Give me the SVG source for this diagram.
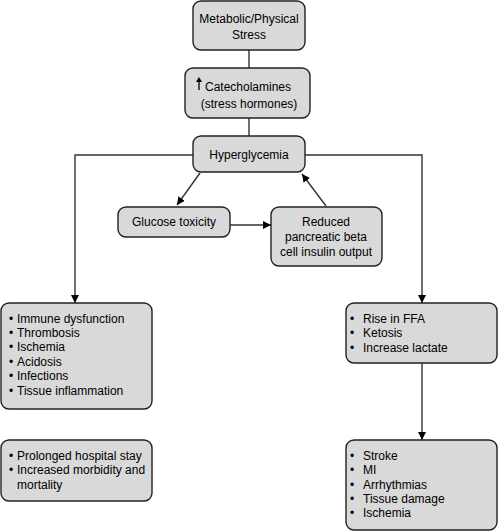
<svg xmlns="http://www.w3.org/2000/svg" width="498" height="532" viewBox="0 0 498 532">
<style>
.box{fill:#d9d9d9;stroke:#222;stroke-width:1.4}
.t{font-family:"Liberation Sans",Arial,sans-serif;font-size:12px;fill:#000}
.c{text-anchor:middle}
.ln{fill:none;stroke:#333;stroke-width:1.4}
</style>
<defs>
<marker id="ah" viewBox="0 0 10 10" refX="10" refY="5" markerWidth="8" markerHeight="8" markerUnits="userSpaceOnUse" orient="auto">
<path d="M0,0 L10,5 L0,10 Z" fill="#000"/>
</marker>
</defs>
<rect width="498" height="532" fill="#fff"/>
<g id="connectors">
<line class="ln" x1="249" y1="50" x2="249" y2="68"/>
<line class="ln" x1="249" y1="118" x2="249" y2="136"/>
<polyline class="ln" points="193,155 75,155 75,303" marker-end="url(#ah)"/>
<polyline class="ln" points="305,155 422,155 422,303" marker-end="url(#ah)"/>
<line class="ln" x1="200" y1="173" x2="177" y2="205" marker-end="url(#ah)"/>
<line class="ln" x1="230" y1="225" x2="271" y2="225" marker-end="url(#ah)"/>
<line class="ln" x1="326" y1="206" x2="302" y2="174" marker-end="url(#ah)"/>
<line class="ln" x1="422" y1="363" x2="422" y2="440" marker-end="url(#ah)"/>
</g>
<g id="stress">
<rect class="box" x="193" y="1" width="112" height="49" rx="8"/>
<text class="t c" x="249" y="23">Metabolic/Physical</text>
<text class="t c" x="249" y="39">Stress</text>
</g>
<g id="catecholamines">
<rect class="box" x="185" y="68" width="125" height="50" rx="8"/>
<line x1="199" y1="90" x2="199" y2="81" stroke="#000" stroke-width="1.3"/>
<path d="M196,82 L199,77 L202,82 Z" fill="#000"/>
<text class="t" x="205" y="91">Catecholamines</text>
<text class="t c" x="249" y="108">(stress hormones)</text>
</g>
<g id="hyperglycemia">
<rect class="box" x="193" y="136" width="112" height="36" rx="8"/>
<text class="t c" x="249" y="159">Hyperglycemia</text>
</g>
<g id="glucose">
<rect class="box" x="118" y="207" width="112" height="30" rx="8"/>
<text class="t c" x="174" y="226">Glucose toxicity</text>
</g>
<g id="reduced">
<rect class="box" x="271" y="207" width="111" height="59" rx="8"/>
<text class="t c" x="326" y="226">Reduced</text>
<text class="t c" x="326" y="241">pancreatic beta</text>
<text class="t c" x="326" y="256">cell insulin output</text>
</g>
<g id="immune">
<rect class="box" x="1" y="303" width="151" height="106" rx="8"/>
<text class="t" x="9" y="323">•</text><text class="t" x="17" y="323">Immune dysfunction</text>
<text class="t" x="9" y="337">•</text><text class="t" x="17" y="337">Thrombosis</text>
<text class="t" x="9" y="351">•</text><text class="t" x="17" y="351">Ischemia</text>
<text class="t" x="9" y="366">•</text><text class="t" x="17" y="366">Acidosis</text>
<text class="t" x="9" y="380">•</text><text class="t" x="17" y="380">Infections</text>
<text class="t" x="9" y="395">•</text><text class="t" x="17" y="395">Tissue inflammation</text>
</g>
<g id="hospital">
<rect class="box" x="1" y="440" width="151" height="61" rx="8"/>
<text class="t" x="9" y="460">•</text><text class="t" x="17" y="460">Prolonged hospital stay</text>
<text class="t" x="9" y="474">•</text><text class="t" x="17" y="474">Increased morbidity and</text>
<text class="t" x="17" y="489">mortality</text>
</g>
<g id="ffa">
<rect class="box" x="346" y="303" width="151" height="60" rx="8"/>
<text class="t" x="350" y="323">•</text><text class="t" x="363" y="323">Rise in FFA</text>
<text class="t" x="350" y="337">•</text><text class="t" x="363" y="337">Ketosis</text>
<text class="t" x="350" y="352">•</text><text class="t" x="363" y="352">Increase lactate</text>
</g>
<g id="stroke">
<rect class="box" x="346" y="440" width="151" height="90" rx="8"/>
<text class="t" x="350" y="460">•</text><text class="t" x="363" y="460">Stroke</text>
<text class="t" x="350" y="474">•</text><text class="t" x="363" y="474">MI</text>
<text class="t" x="350" y="489">•</text><text class="t" x="363" y="489">Arrhythmias</text>
<text class="t" x="350" y="503">•</text><text class="t" x="363" y="503">Tissue damage</text>
<text class="t" x="350" y="517">•</text><text class="t" x="363" y="517">Ischemia</text>
</g>
</svg>
